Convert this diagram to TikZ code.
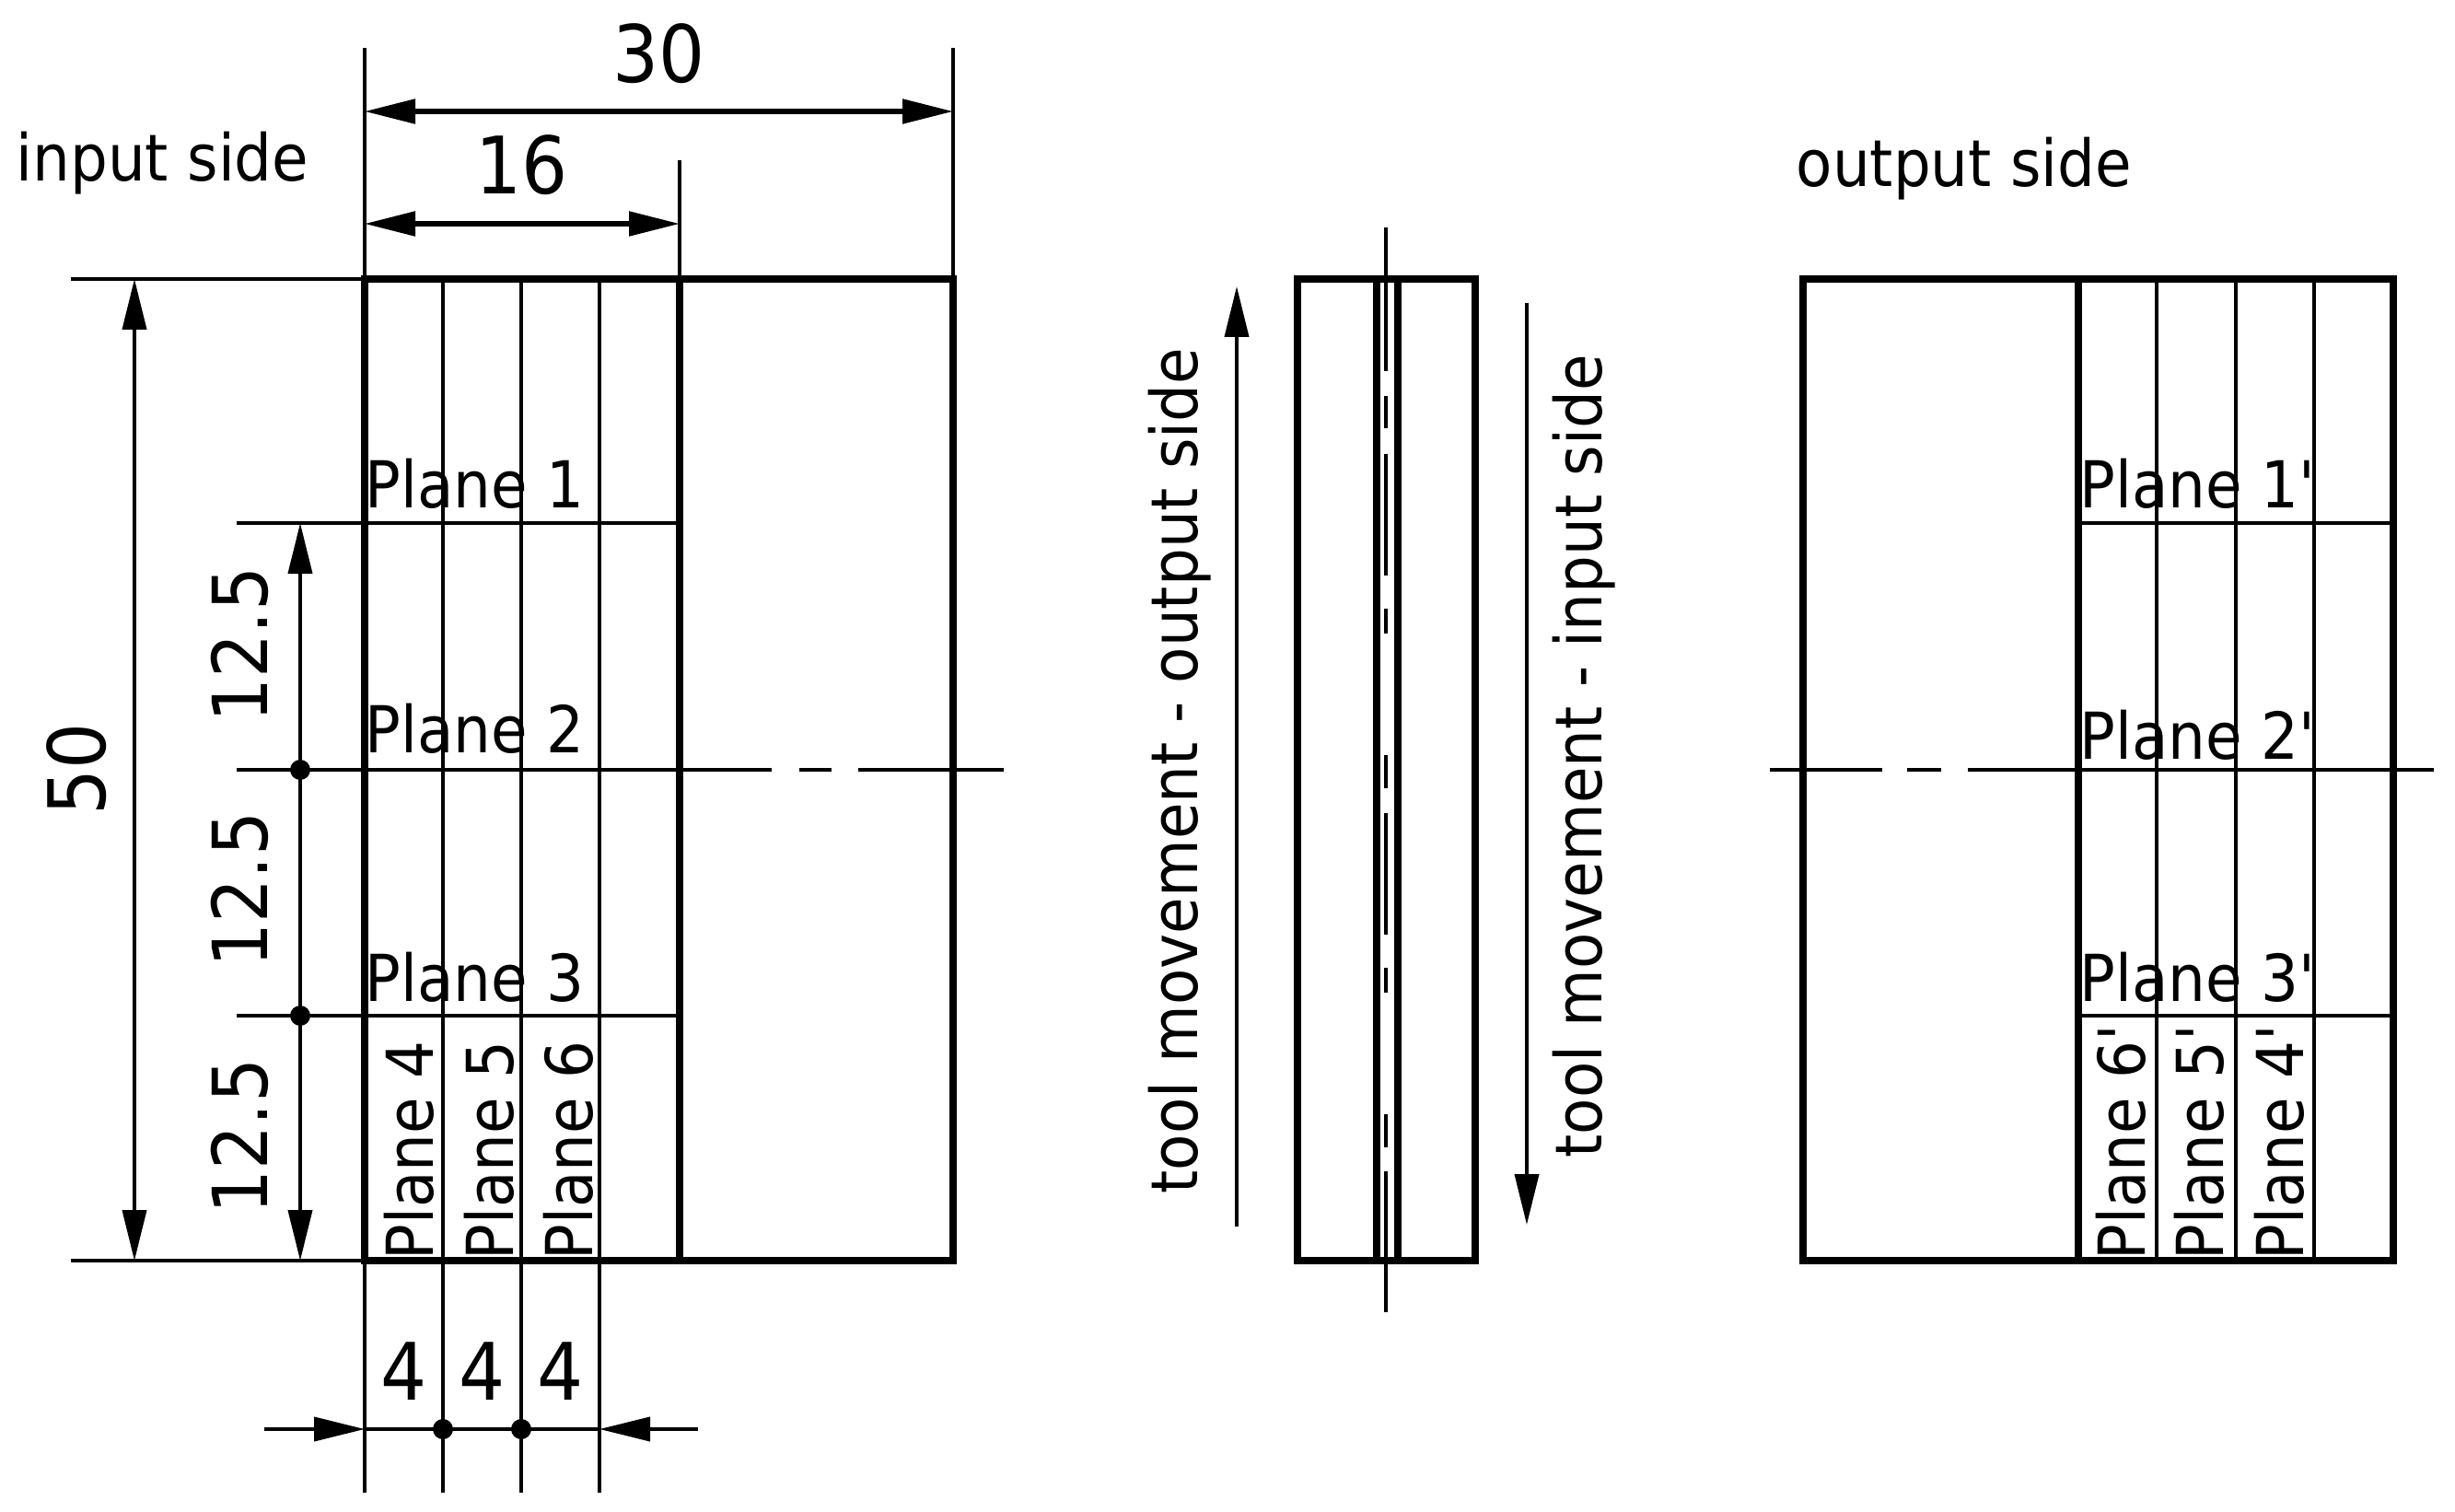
\documentclass[tikz,border=0pt]{standalone}
\usepackage{fontspec}
\setmainfont[FakeStretch=0.915]{DejaVu Sans}
\usetikzlibrary{arrows.meta}

\tikzset{
	thinline/.style={line width=1.1pt},
	thickline/.style={line width=2.3pt},
	dimline/.style={line width=1.1pt,{Triangle[length=5.5mm,width=2.6mm]}-{Triangle[length=5.5mm,width=2.6mm]}},
	headline/.style={line width=1.1pt,-{Triangle[length=5.5mm,width=2.6mm]}},
	dimdot/.style={circle,fill=black,inner sep=0pt,minimum size=2.2mm},
	txt/.style={inner sep=0pt,font=\fontsize{20}{24}\selectfont},
	dimtxt/.style={inner sep=0pt,font=\fontsize{24.5}{30}\selectfont},
}

\begin{document}
\begin{tikzpicture}
	\useasboundingbox (0,0) rectangle (26.66,16.41);
	% input side view
	\draw[thickline] (3.96,2.72) rectangle (10.35,13.38);
	\draw[thickline] (7.38,2.72) -- (7.38,13.38);
	\foreach \x in {4.81,5.66,6.51}{
		\draw[thinline] (\x,13.38) -- (\x,0.20);
	}
	\draw[thinline] (3.96,2.72) -- (3.96,0.20);
	\draw[thinline] (3.96,13.38) -- (3.96,15.89);
	\draw[thinline] (10.35,13.38) -- (10.35,15.89);
	\draw[thinline] (7.38,13.38) -- (7.38,14.67);
	\foreach \y in {10.73,5.38}{
		\draw[thinline] (2.57,\y) -- (7.38,\y);
	}
	\draw[thinline] (0.77,13.38) -- (3.96,13.38);
	\draw[thinline] (0.77,2.72) -- (3.96,2.72);
	\draw[thinline,dash pattern=on 5.81cm off .30cm on .35cm off .29cm on 3cm] (2.57,8.05) -- (10.90,8.05);
	% dimensions
	\draw[dimline,line width=1.5pt] (3.96,15.20) -- (10.35,15.20);
	\draw[dimline,line width=1.5pt] (3.96,13.98) -- (7.38,13.98);
	\draw[dimline] (1.46,2.72) -- (1.46,13.38);
	\draw[headline] (3.26,8.05) -- (3.26,10.73);
	\draw[thinline] (3.26,8.05) -- (3.26,5.38);
	\draw[headline] (3.26,5.38) -- (3.26,2.72);
	\node[dimdot] (dot a) at (3.26,8.05) {};
	\node[dimdot] (dot b) at (3.26,5.38) {};
	\draw[headline] (2.87,0.89) -- (3.96,0.89);
	\draw[thinline] (3.96,0.89) -- (6.51,0.89);
	\draw[headline] (7.58,0.89) -- (6.51,0.89);
	\node[dimdot] (dot c) at (4.81,0.89) {};
	\node[dimdot] (dot d) at (5.66,0.89) {};
	\node[dimtxt] (dim30) at (7.16,15.83) {30};
	\node[dimtxt] (dim16) at (5.67,14.62) {16};
	\node[dimtxt,rotate=90] (dim50) at (0.83,8.06) {50};
	\foreach \y/\n in {9.41/a,6.75/b,4.07/c}{
		\node[dimtxt,rotate=90,font=\fontsize{23.5}{28}\selectfont] (dim125\n) at (2.60,\y) {12.5};
	}
	\foreach \x/\n in {4.39/a,5.24/b,6.09/c}{
		\node[dimtxt] (dim4\n) at (\x,1.52) {4};
	}
	\node[txt,anchor=west] (input) at (0.17,14.64) {input side};
	\foreach \y/\n in {10.90/1,8.24/2,5.54/3}{
		\node[txt,anchor=base west] (plane\n) at (3.96,\y) {Plane \n};
	}
	\foreach \x/\n in {4.70/4,5.57/5,6.43/6}{
		\node[txt,rotate=90,anchor=base west] (plane\n) at (\x,2.72) {Plane \n};
	}
	% middle view
	\draw[thickline] (14.09,2.72) rectangle (16.02,13.38);
	\foreach \x in {14.95,15.18}{
		\draw[thickline] (\x,2.72) -- (\x,13.38);
	}
	\draw[thinline] (15.05,13.94) -- (15.05,12.38);
	\draw[thinline] (15.05,3.69) -- (15.05,2.16);
	\draw[thinline,dash pattern=on 0pt off .27cm on .355cm off .275cm on 1.05cm] (15.05,12.38) -- (15.05,3.69);
	\draw[headline] (13.43,3.09) -- (13.43,13.30);
	\draw[headline] (16.58,13.12) -- (16.58,3.11);
	\node[txt,rotate=90,anchor=base west] (toolout) at (13.00,3.44) {tool movement - output side};
	\node[txt,rotate=90,anchor=base west] (toolin) at (17.39,3.83) {tool movement - input side};
	% output side view
	\draw[thickline] (19.58,2.72) rectangle (25.99,13.38);
	\draw[thickline] (22.57,2.72) -- (22.57,13.38);
	\foreach \x in {23.42,24.28,25.13}{
		\draw[thinline] (\x,2.72) -- (\x,13.38);
	}
	\foreach \y in {10.73,5.38}{
		\draw[thinline] (22.57,\y) -- (25.99,\y);
	}
	\draw[thinline,dash pattern=on 1.22cm off .27cm on .37cm off .29cm on 7cm] (19.22,8.05) -- (26.43,8.05);
	\node[txt,anchor=west] (output) at (19.50,14.58) {output side};
	\foreach \y/\n in {10.90/1,8.17/2,5.54/3}{
		\node[txt,anchor=base west] (plane\n p) at (22.58,\y) {Plane \n\textquotesingle};
	}
	\foreach \x/\n in {23.29/6,24.14/5,25.01/4}{
		\node[txt,rotate=90,anchor=base west] (plane\n p) at (\x,2.72) {Plane \n\textquotesingle};
	}
\end{tikzpicture}
\end{document}
